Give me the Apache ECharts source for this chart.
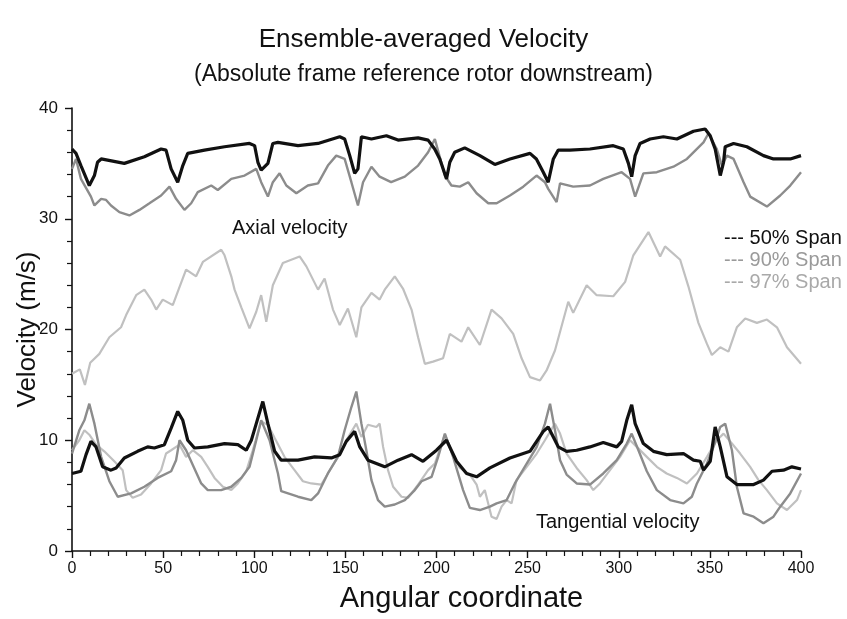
<!DOCTYPE html>
<html>
<head>
<meta charset="utf-8">
<script src="https://cdn.jsdelivr.net/npm/echarts@6/dist/echarts.min.js"></script>
<style>
html,body{margin:0;padding:0;background:#fff;}
#chart{width:847px;height:619px;}
</style>
</head>
<body>
<div id="chart"></div>
<script>
// ---- Data ----
var spanNames = ['50% Span', '90% Span', '97% Span'];
var xTickLabels = [0, 50, 100, 150, 200, 250, 300, 350, 400];
var yTickLabels = [0, 10, 20, 30, 40];

// Axial velocity, 50% span
var axial50X = [0,2.2,4.9,9.5,12.3,14,16,28.7,39.7,48.9,51.6,54.4,58,60.8,63.5,72.7,83.7,97.4,100.2,102,103.8,107.5,110.2,113,124,135,146.9,149.6,152.4,155.1,156.9,158.8,164.3,172.5,178.9,189.9,195.4,199,201.8,205.5,207.3,210,215.5,223.8,232,240.3,251.3,254.8,258.6,261.3,264.1,266.8,273.2,284.2,297,302.5,305.3,307.1,309,311.7,317.2,324.5,331.9,341,347.4,350.2,352.9,355.7,357.5,358.4,363,370.3,379.4,384.9,394.1,400];
var axial50Y = [36.3,35.9,34.8,33.0,33.9,35.1,35.4,35.0,35.6,36.3,36.2,34.5,33.3,34.8,35.9,36.2,36.5,36.8,36.6,35.1,34.4,35.0,36.8,36.9,36.6,36.8,37.4,37.2,35.7,34.1,34.5,37.4,37.2,37.5,37.1,37.3,37.1,36.3,35.4,33.6,35.1,36.0,36.4,35.7,34.9,35.4,35.9,35.4,34.2,33.3,35.4,36.2,36.2,36.3,36.6,36.3,35.0,33.8,35.7,36.8,37.2,37.4,37.2,37.9,38.1,37.5,36.3,33.9,35.1,36.5,36.8,36.5,35.7,35.4,35.4,35.7];

// Axial velocity, 90% span
var axial90X = [0,2.2,4.9,10.4,12.3,16,18.7,21.4,26,31.5,37,42.5,48.9,53.5,57.1,61.7,65.4,69,76.4,80,87.4,94.7,101.1,103.8,107.5,110.2,113.9,117.6,123.1,129.4,135,140.4,145,149.6,153.3,156.9,159.7,164.3,168.8,175.1,182.6,189.9,195.4,199.1,204.6,208.2,212.8,217.4,222,228.4,233,240.3,247.6,254.9,259.5,261.3,265.9,267.8,275,284.2,291.5,301.6,306.2,309,313.5,320.9,330,337.4,346.5,349.2,353.8,356.6,359.3,363,368.5,372.1,381.3,388.6,394.1,400];
var axial90Y = [34.5,35.4,33.6,32.0,31.2,31.8,31.7,31.2,30.6,30.3,30.8,31.4,32.1,32.9,31.8,30.8,31.4,32.4,33.0,32.6,33.6,33.9,34.5,33.3,32.0,33.3,34.1,33.0,32.3,33.0,33.2,34.8,35.7,35.4,33.3,31.2,33.3,34.7,33.8,33.3,33.8,34.8,36.0,37.2,33.9,33.0,32.9,33.3,32.3,31.4,31.4,32.1,32.9,33.9,33.3,32.7,31.5,33.2,32.9,33.0,33.6,34.2,33.6,32.0,34.1,34.2,34.7,35.4,36.9,37.7,36.3,34.8,35.7,35.4,33.3,32.0,31.1,32.1,33.0,34.2];

// Axial velocity, 97% span
var axial97X = [0,4.3,7.1,10,15,20.5,26.9,29.7,35.2,39.7,43.4,46.2,49.8,55.3,58,62.6,68.1,71.8,81.9,83.7,87.4,89.2,92.9,97.4,101.1,103.8,106.6,110.2,115.7,124.9,128.6,135,138.6,143.2,146.9,151.4,156,158.8,164.3,168.8,171.6,177.1,181.6,186.3,189.9,193.6,198.1,203.6,207.3,213.7,217.4,223.8,230.2,235.7,242.1,246.7,251.3,256.8,260.4,265,272.3,275,282.4,287.9,297,303.5,308,316.3,322.7,325.4,333.7,338.2,343.7,348.4,351.1,355.7,360.2,364.8,369.4,375.8,381.3,386.8,392.3,400];
var axial97Y = [16.0,16.4,15.0,17.0,17.8,19.3,20.2,21.3,23.1,23.6,22.7,21.8,22.7,22.2,23.4,25.4,24.8,26.1,27.2,26.7,24.8,23.6,22.0,20.1,21.6,23.1,20.7,24.0,26.0,26.6,25.7,23.6,24.6,21.8,20.4,21.9,19.3,22.0,23.3,22.7,23.6,24.8,23.7,21.8,19.3,16.9,17.1,17.4,19.6,18.9,20.2,18.6,21.8,21.0,19.6,17.4,15.7,15.4,16.3,18.1,22.5,21.5,24.0,23.1,23.0,24.3,26.7,28.8,26.6,27.5,26.3,23.9,20.6,18.7,17.7,18.4,18.0,20.2,21.0,20.6,20.9,20.2,18.4,16.9];

// Tangential velocity, 50% span
var tang50X = [0,4.9,7.7,10.4,13.2,16.8,21.4,24.2,28.7,36,41.5,45.2,50.7,54.4,58,60.8,63.5,67.2,74.5,83.7,91,95.6,98.4,101.1,104.7,107.5,111.2,114.8,124,133.1,142.3,146.9,150.5,155.1,157.9,162.4,171.6,178.9,186.3,192.6,200,205.5,211,216.5,222,229.3,240.3,251.3,258.6,261.3,264.1,266.8,271.4,276.9,284.2,291.5,298.9,301.6,304.4,307.1,309,313.5,319,326.3,335.5,341,344.7,346.5,350.2,352.9,355.7,359.4,364.8,374,379.4,384.1,390.4,395,400];
var tang50Y = [7.0,7.2,8.7,9.9,9.4,7.6,7.3,7.5,8.4,9.0,9.4,9.3,9.6,11.1,12.6,11.8,10.0,9.3,9.4,9.7,9.6,9.1,10.0,11.5,13.5,11.5,9.0,8.2,8.2,8.5,8.4,8.7,9.9,10.8,9.4,8.2,7.6,8.2,8.7,8.1,9.1,10.0,8.1,7.0,6.7,7.5,8.4,9.0,10.8,11.2,10.3,9.4,9.0,9.1,9.4,9.8,9.4,9.9,11.8,13.2,11.5,9.7,9.0,8.7,8.8,8.2,8.1,7.3,8.1,11.2,9.4,6.7,6.0,6.0,6.4,7.2,7.3,7.6,7.4];

// Tangential velocity, 90% span
var tang90X = [0,4,6.8,9.5,12.3,16,20.5,25.1,32.4,39.7,47,54.4,57.1,59,62.6,70.9,74.5,81.8,87.4,92.9,97.4,101.1,103.8,108.4,113,114.8,124,131.3,135,140.4,145.9,149.6,153.3,156,158.8,161.5,164.3,167.9,171.6,177.1,182.6,188.1,191.8,197.3,200.9,204.6,209.1,214.6,218.3,223.8,229.3,233,238.5,243,249.5,255,259.5,262.3,265,267.8,271.4,276.9,284.2,291.5,298.9,304.4,307.1,310.8,315.4,320.9,328.2,335.5,340.1,342.9,348.4,352,355.7,358.4,362.1,364.8,368.5,374,379.4,384.9,388.6,394.1,400];
var tang90Y = [8.8,10.9,11.8,13.3,11.5,8.5,6.3,4.9,5.2,5.8,6.6,7.2,8.2,10.0,9.1,6.1,5.5,5.5,5.8,6.6,7.6,10.0,11.8,10.0,7.0,5.4,4.9,4.6,5.2,7.0,8.5,10.9,13.0,14.4,11.5,9.1,6.4,4.6,4.0,4.2,4.6,5.5,6.3,6.7,8.5,10.6,8.5,5.5,3.9,3.7,4.0,4.3,4.6,6.1,7.9,9.4,11.5,13.3,10.9,8.2,6.9,6.1,6.0,7.0,8.2,9.7,10.6,9.1,7.2,5.5,4.6,4.3,4.9,6.1,7.9,9.4,11.2,11.5,9.1,5.8,3.4,3.1,2.5,3.1,4.0,5.2,7.0];

// Tangential velocity, 97% span
var tang97X = [0,4,6.8,9.5,13.2,17.7,23.2,27.8,29.7,33.3,37.9,43.4,48.9,51.6,54.4,59,62.6,66.3,70.9,74.5,78.2,82.8,87.4,91,95.6,99.2,103.8,107.5,111.2,116.6,122.1,126.7,131.3,136.8,140.4,145.9,150.5,156,158.8,162.4,167,168.8,170.7,173.4,176.2,180.8,184.4,189.9,195.4,199.1,204.6,208.2,212.8,218.3,222,223.8,226.5,230.2,233,235.7,238.5,241.2,243.9,249.5,255,259.5,265,267.8,271.4,276.9,282.4,286,289.7,295.2,300.7,306.2,309.9,315.4,320.9,326.3,331.9,337.4,342.9,348.4,353.8,357.5,362.1,366.6,372.1,376.7,381.3,386.8,392.3,397.8,400];
var tang97Y = [9.1,10.0,10.9,10.5,9.6,9.0,8.1,7.3,5.5,4.8,5.1,6.1,7.3,8.8,9.1,9.6,8.5,9.1,8.5,7.6,6.6,5.8,5.5,6.1,7.2,9.1,11.7,11.4,10.2,8.5,7.3,6.3,6.1,6.0,7.0,8.5,10.0,11.5,10.3,11.4,11.2,11.5,9.4,7.3,5.8,4.9,4.8,6.0,7.3,7.9,10.5,9.1,7.5,6.9,6.0,4.9,5.5,3.1,2.9,4.0,4.6,4.3,6.4,7.6,8.8,10.0,11.5,10.6,8.8,7.5,6.4,5.5,6.1,7.3,8.5,10.0,9.4,8.5,7.6,7.0,6.6,6.1,7.0,8.5,10.0,10.6,9.7,8.8,7.6,6.4,5.5,4.3,3.7,4.6,5.5];

// ---- Styling ----
var FONT = '"Liberation Sans", Arial, Helvetica, sans-serif';
var spanColors = ['#111111', '#8c8c8c', '#c0c0c0'];
var spanWidths = [3.2, 2.4, 2.2];
var legendTextColors = ['#111111', '#9a9a9a', '#a9a9a9'];

function zip(xs, ys) {
  var out = [];
  for (var i = 0; i < xs.length; i++) out.push([xs[i], ys[i]]);
  return out;
}
function mkSeries(idx, xs, ys) {
  return {
    name: spanNames[idx],
    type: 'line',
    data: zip(xs, ys),
    showSymbol: false,
    symbol: 'none',
    animation: false,
    lineStyle: { color: spanColors[idx], width: spanWidths[idx] },
    itemStyle: { color: spanColors[idx] },
    z: 10 - idx
  };
}

var chart = echarts.init(document.getElementById('chart'), null, { renderer: 'canvas' });
chart.setOption({
  backgroundColor: '#ffffff',
  animation: false,
  title: {
    text: 'Ensemble-averaged Velocity',
    subtext: '(Absolute frame reference rotor downstream)',
    left: 'center',
    top: 22,
    itemGap: 10,
    textStyle: { fontFamily: FONT, fontSize: 26, fontWeight: 'normal', color: '#111' },
    subtextStyle: { fontFamily: FONT, fontSize: 23, color: '#111' }
  },
  legend: {
    orient: 'vertical',
    left: 714,
    top: 223,
    itemGap: 2,
    itemWidth: 0,
    itemHeight: 0,
    icon: 'none',
    selectedMode: false,
    formatter: function (n) { return '--- ' + n; },
    textStyle: { fontFamily: FONT, fontSize: 20 },
    data: spanNames.map(function (n, i) {
      return { name: n, icon: 'none', textStyle: { color: legendTextColors[i] } };
    })
  },
  grid: { left: 72, right: 46, top: 108, bottom: 68, containLabel: false, outerBoundsMode: 'none' },
  xAxis: {
    type: 'value',
    min: 0, max: 400, interval: 50,
    name: 'Angular coordinate',
    nameLocation: 'middle',
    nameGap: 33,
    nameMoveOverlap: false,
    nameTextStyle: { fontFamily: FONT, fontSize: 29, color: '#111', padding: [0, 0, 0, 50] },
    axisLine: { show: true, onZero: false, lineStyle: { color: '#111', width: 1.6 } },
    axisTick: { show: true, length: 7, lineStyle: { color: '#111', width: 1.4 } },
    minorTick: { show: true, splitNumber: 5, length: 5, lineStyle: { color: '#111', width: 1.2 } },
    splitLine: { show: false },
    axisLabel: {
      fontFamily: FONT, fontSize: 16, color: '#111', margin: 10,
      formatter: function (v) { return xTickLabels.indexOf(v) >= 0 ? String(v) : ''; }
    }
  },
  yAxis: {
    type: 'value',
    min: 0, max: 40, interval: 10,
    name: 'Velocity (m/s)',
    nameLocation: 'middle',
    nameGap: 31,
    nameMoveOverlap: false,
    nameTextStyle: { fontFamily: FONT, fontSize: 26, color: '#111' },
    axisLine: { show: true, onZero: false, lineStyle: { color: '#111', width: 1.6 } },
    axisTick: { show: true, length: 7, lineStyle: { color: '#111', width: 1.4 } },
    minorTick: { show: true, splitNumber: 5, length: 5, lineStyle: { color: '#111', width: 1.2 } },
    splitLine: { show: false },
    axisLabel: {
      fontFamily: FONT, fontSize: 17, color: '#111', margin: 14,
      formatter: function (v) { return yTickLabels.indexOf(v) >= 0 ? String(v) : ''; }
    }
  },
  graphic: [
    { type: 'text', left: 232, top: 218, style: { text: 'Axial velocity', fontFamily: FONT, fontSize: 20, fill: '#111' } },
    { type: 'text', left: 536, top: 512, style: { text: 'Tangential velocity', fontFamily: FONT, fontSize: 20, fill: '#111' } }
  ],
  series: [
    mkSeries(2, axial97X, axial97Y),
    mkSeries(2, tang97X, tang97Y),
    mkSeries(1, axial90X, axial90Y),
    mkSeries(1, tang90X, tang90Y),
    mkSeries(0, axial50X, axial50Y),
    mkSeries(0, tang50X, tang50Y)
  ]
});
</script>
</body>
</html>
